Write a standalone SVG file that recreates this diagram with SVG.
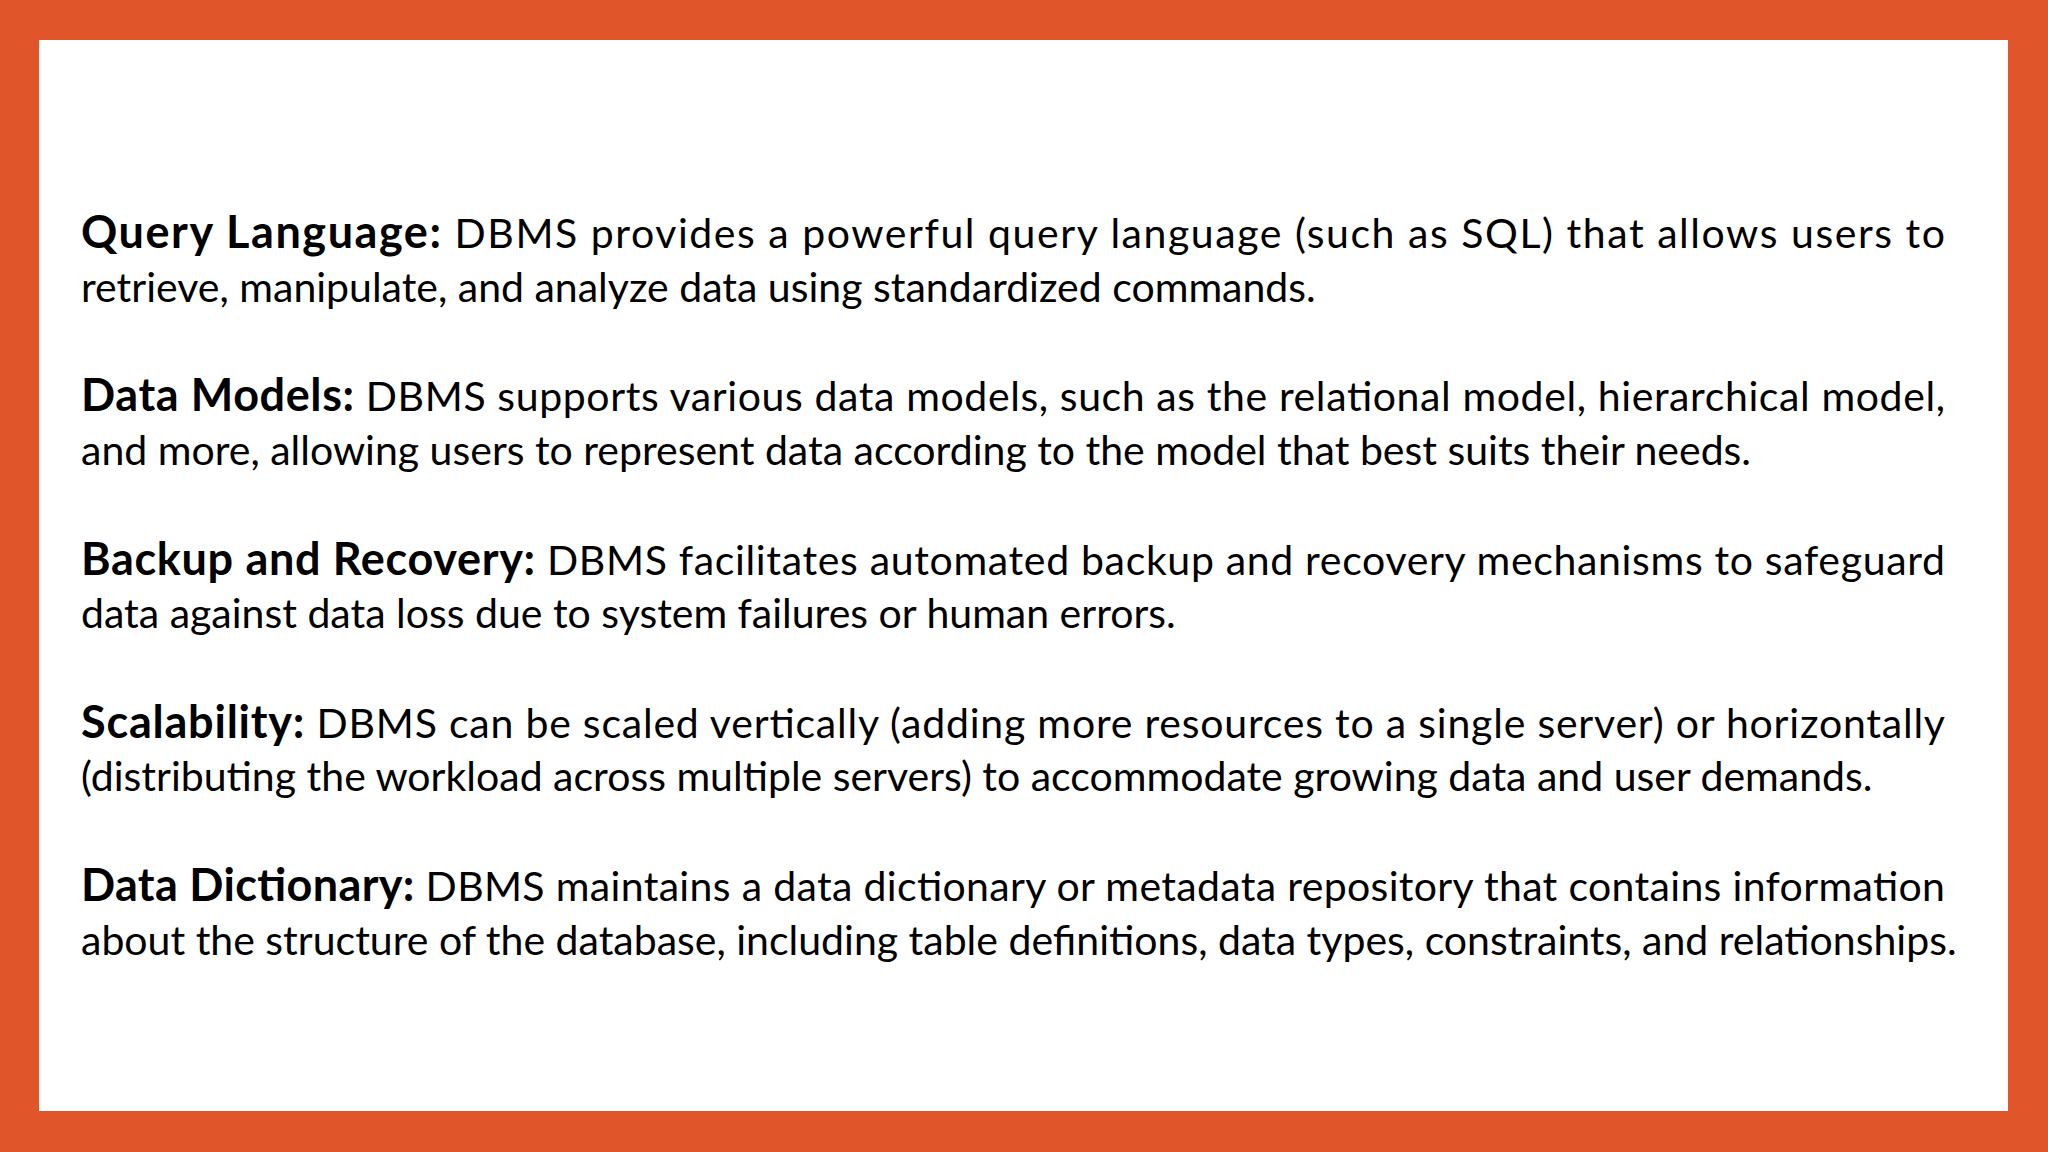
<svg xmlns="http://www.w3.org/2000/svg" width="2048" height="1152" viewBox="0 0 2048 1152">
<style>
text{font-family:Lato,"Open Sans","Liberation Sans",sans-serif;font-size:41px;fill:#000}
.h{font-weight:bold;font-size:45px}
</style>
<rect width="2048" height="1152" fill="#E0552A"/>
<rect x="39" y="40" width="1969" height="1071" fill="#fff"/>
<g id="p1">
<text x="81" y="248" textLength="1864" lengthAdjust="spacing"><tspan class="h">Query Language:</tspan> DBMS provides a powerful query language (such as SQL) that allows users to</text>
<text x="81" y="302">retrieve, manipulate, and analyze data using standardized commands.</text>
</g>
<g id="p2">
<text x="81" y="411" textLength="1864" lengthAdjust="spacing"><tspan class="h">Data Models:</tspan> DBMS supports various data models, such as the relational model, hierarchical model,</text>
<text x="81" y="465">and more, allowing users to represent data according to the model that best suits their needs.</text>
</g>
<g id="p3">
<text x="81" y="575" textLength="1864" lengthAdjust="spacing"><tspan class="h">Backup and Recovery:</tspan> DBMS facilitates automated backup and recovery mechanisms to safeguard</text>
<text x="81" y="628">data against data loss due to system failures or human errors.</text>
</g>
<g id="p4">
<text x="81" y="738" textLength="1864" lengthAdjust="spacing"><tspan class="h">Scalability:</tspan> DBMS can be scaled vertically (adding more resources to a single server) or horizontally</text>
<text x="81" y="791">(distributing the workload across multiple servers) to accommodate growing data and user demands.</text>
</g>
<g id="p5">
<text x="81" y="901" textLength="1864" lengthAdjust="spacing"><tspan class="h">Data Dictionary:</tspan> DBMS maintains a data dictionary or metadata repository that contains information</text>
<text x="81" y="955">about the structure of the database, including table definitions, data types, constraints, and relationships.</text>
</g>
</svg>
